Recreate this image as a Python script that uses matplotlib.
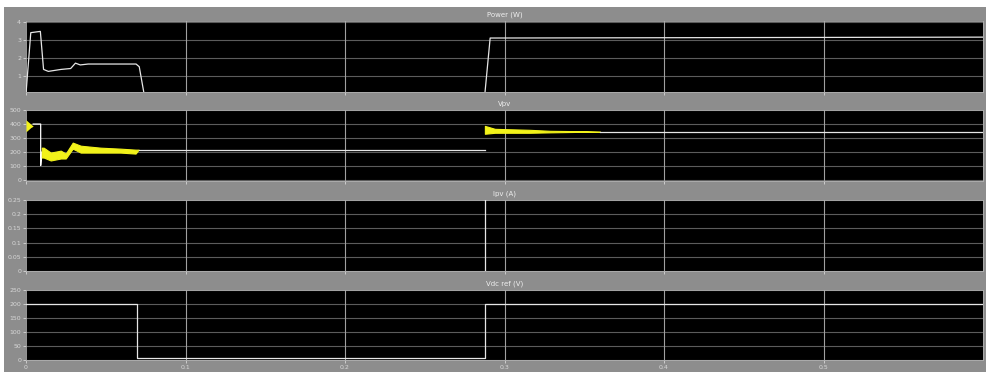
import matplotlib
matplotlib.use("Agg")
import matplotlib.pyplot as plt
from matplotlib.patches import Rectangle

W, H = 986, 372

# ---- time axis ----
time_ticks = [0, 0.1, 0.2, 0.3, 0.4, 0.5]
time_labels = ["0", "0.1", "0.2", "0.3", "0.4", "0.5"]
t_end = 0.6

# ---- panel 1: power ----
t_power = [0, 0.003, 0.009, 0.011, 0.014, 0.022, 0.028, 0.031, 0.034, 0.039,
           0.060, 0.069, 0.071, 0.074, 0.2877, 0.291, 0.6]
power = [0, 3.4, 3.47, 1.35, 1.24, 1.35, 1.4, 1.7, 1.6, 1.65,
         1.65, 1.65, 1.5, 0, 0, 3.1, 3.15]
power_ticks = [0, 1, 2, 3, 4]

# ---- panel 2: voltage with switching ripple ----
t_v_start = [0, 0.0030, 0.0045]
v_start_hi = [430, 400, 385]
v_start_lo = [345, 375, 385]
t_v_hold = [0.0045, 0.0092, 0.0092, 0.0099]
v_hold = [400, 400, 105, 200]
t_ripple1 = [0.0099, 0.0111, 0.0155, 0.0218, 0.0249, 0.0293, 0.0343, 0.0468, 0.0593, 0.0687, 0.0706]
ripple1_hi = [232, 232, 197, 211, 190, 268, 246, 232, 225, 218, 218]
ripple1_lo = [162, 162, 141, 155, 155, 225, 197, 197, 197, 190, 218]
t_v_mid = [0.0706, 0.2877]
v_mid = [218, 218]
t_ripple2 = [0.2877, 0.2940, 0.3160, 0.3285, 0.3500, 0.3600]
ripple2_hi = [387, 366, 359, 352, 349, 345]
ripple2_lo = [331, 338, 338, 341, 345, 345]
t_v_end = [0.3600, 0.6]
v_end = [345, 345]
volt_ticks = [0, 100, 200, 300, 400, 500]

# ---- panel 3: current ----
t_cur = [0, 0.2877, 0.2877, 0.6]
cur = [-1, -1, 1, 1]
cur_ticks = [0, 0.05, 0.1, 0.15, 0.2, 0.25]

# ---- panel 4: reference ----
t_ref = [0, 0.0693, 0.0693, 0.2877, 0.2877, 0.6]
ref = [200, 200, 7, 7, 200, 200]
ref_ticks = [0, 50, 100, 150, 200, 250]

titles = ["Power (W)", "Vpv", "Ipv (A)", "Vdc ref (V)"]

fig = plt.figure(figsize=(W / 100, H / 100), dpi=100)
fig.patch.set_facecolor("white")
fig.add_artist(Rectangle((4 / W, 0), 1 - 4 / W, 1 - 7 / H, transform=fig.transFigure,
                         facecolor="#8d8d8d", edgecolor="none", zorder=0))

panels = [(21, 92, (0.09, 4.05), power_ticks[1:]),
          (110, 181, (-5, 500), volt_ticks),
          (200, 271, (0, 0.25), cur_ticks),
          (290, 360, (0, 250), ref_ticks)]

axes = []
left, right = 26, 983
for i, (top, bot, ylim, yt) in enumerate(panels):
    ax = fig.add_axes([left / W, 1 - bot / H, (right - left) / W, (bot - top) / H])
    ax.set_facecolor("black")
    ax.set_xlim(0, t_end)
    ax.set_ylim(*ylim)
    ax.set_yticks(yt)
    ax.set_yticklabels([f"{v:g}" for v in yt])
    ax.set_xticks(time_ticks)
    if i == 3:
        ax.set_xticklabels(time_labels)
    else:
        ax.set_xticklabels([])
    ax.tick_params(colors="#d8d8d8", labelsize=4.5, length=2, width=0.6, pad=1.5)
    for s in ax.spines.values():
        s.set_color("#b0b0b0")
        s.set_linewidth(0.6)
    for y in yt:
        ax.axhline(y, color="#5c5c5c", lw=0.8, zorder=1)
    for x in time_ticks[1:]:
        ax.axvline(x, color="#a0a0a0", lw=0.8, zorder=1)
    ax.set_title(titles[i], color="#eeeeee", fontsize=5, pad=3)
    axes.append(ax)

ax1, ax2, ax3, ax4 = axes
ax1.plot(t_power, power, color="#e6e6e6", lw=0.9, zorder=3)

ax2.fill_between(t_v_start, v_start_lo, v_start_hi, color="#f2f21a", lw=0, zorder=3)
ax2.plot(t_v_hold, v_hold, color="white", lw=0.9, zorder=3)
ax2.fill_between(t_ripple1, ripple1_lo, ripple1_hi, color="#f2f21a", lw=0.8,
                 edgecolor="#f2f21a", zorder=3)
ax2.plot(t_v_mid, v_mid, color="#e6e6e6", lw=0.9, zorder=3)
ax2.fill_between(t_ripple2, ripple2_lo, ripple2_hi, color="#f2f21a", lw=0.8,
                 edgecolor="#f2f21a", zorder=3)
ax2.plot(t_v_end, v_end, color="#e6e6e6", lw=0.9, zorder=3)

ax3.plot(t_cur, cur, color="#e6e6e6", lw=0.9, zorder=3)
ax4.plot(t_ref, ref, color="#e6e6e6", lw=0.9, zorder=3)

fig.savefig("out.png", dpi=100, facecolor=fig.get_facecolor())
